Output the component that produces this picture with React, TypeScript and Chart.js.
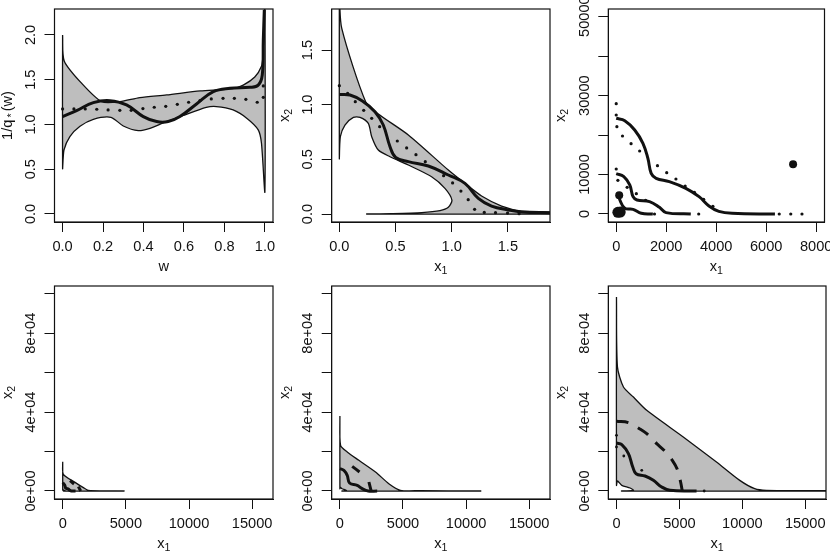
import { useEffect, useRef } from "react";
import { Chart, registerables } from "chart.js";

Chart.register(...registerables);

type Pt = [number, number];

const FONT = '"Liberation Sans", Arial, sans-serif';
const GREY = "#bebebe";
const INK = "#111";

// panel 1: w against 1/q*(w)
const p1Upper: Pt[] = [[0, 2], [0.008, 1.71], [0.094, 1.46], [0.193, 1.255], [0.283, 1.255], [0.382, 1.3], [0.514, 1.33], [0.68, 1.375], [0.84, 1.4], [0.893, 1.44], [0.95, 1.53], [0.983, 1.65], [0.99, 1.76], [0.998, 2.28], [1, 2.6]];
const p1Lower: Pt[] = [[0, 0.51], [0.007, 0.715], [0.036, 0.865], [0.086, 0.98], [0.152, 1.058], [0.239, 1.08], [0.3, 0.983], [0.374, 0.931], [0.432, 0.957], [0.5, 1.02], [0.596, 1.1], [0.71, 1.19], [0.76, 1.2], [0.843, 1.162], [0.91, 1.07], [0.967, 0.94], [0.983, 0.79], [1, 0.25]];
const p1Main: Pt[] = [[0, 1.088], [0.069, 1.155], [0.152, 1.244], [0.234, 1.266], [0.316, 1.218], [0.399, 1.088], [0.465, 1.032], [0.522, 1.032], [0.58, 1.088], [0.662, 1.229], [0.745, 1.367], [0.827, 1.404], [0.926, 1.415], [0.967, 1.44], [0.987, 1.553], [0.992, 1.944], [0.997, 2.28]];
const p1Dots: Pt[] = [[0, 1.173], [0.056, 1.173], [0.112, 1.173], [0.169, 1.17], [0.225, 1.162], [0.283, 1.158], [0.339, 1.158], [0.397, 1.177], [0.453, 1.192], [0.51, 1.203], [0.567, 1.225], [0.623, 1.248], [0.679, 1.266], [0.735, 1.285], [0.793, 1.292], [0.849, 1.292], [0.906, 1.281], [0.962, 1.248], [0.992, 1.303], [0.992, 1.43]];

// panel 2: unit scale
const p2Upper: Pt[] = [[0, 2], [0.021, 1.7], [0.234, 1.027], [0.347, 0.915], [0.614, 0.723], [0.97, 0.402], [1.118, 0.28], [1.266, 0.165], [1.444, 0.073], [1.622, 0.027], [1.875, 0.018], [2.6, 0]];
const p2Lower: Pt[] = [[0, 0.509], [0.009, 0.707], [0.05, 0.814], [0.125, 0.884], [0.184, 0.884], [0.258, 0.829], [0.288, 0.707], [0.347, 0.585], [0.451, 0.524], [0.614, 0.448], [0.821, 0.341], [0.94, 0.235], [1.002, 0.128], [0.97, 0.061], [0.896, 0.03], [0.733, 0.012], [0.466, 0.003], [0.249, 0]];
const p2Main: Pt[] = [[0, 1.094], [0.095, 1.088], [0.205, 1.034], [0.317, 0.936], [0.391, 0.814], [0.451, 0.616], [0.501, 0.518], [0.614, 0.479], [0.792, 0.439], [0.97, 0.357], [1.118, 0.28], [1.237, 0.143], [1.355, 0.073], [1.503, 0.037], [1.622, 0.018], [1.875, 0.012]];
const p2Dots: Pt[] = [[0, 1.174], [0.074, 1.104], [0.142, 1.027], [0.217, 0.948], [0.288, 0.875], [0.359, 0.799], [0.516, 0.668], [0.599, 0.604], [0.682, 0.543], [0.765, 0.479], [0.928, 0.351], [1.008, 0.284], [1.082, 0.21], [1.147, 0.131], [1.204, 0.043], [1.29, 0.015], [1.39, 0.012], [1.497, 0.009], [1.6, 0.003]];

// panel 3: three return levels, no band
const p3CurveA: Pt[] = [[0, 24240], [343, 23650], [739, 21280], [1069, 17900], [1267, 14100], [1399, 10300], [1597, 9040], [2125, 8190], [2785, 6500], [3313, 4390], [3710, 2030], [4106, 680], [4634, 170], [6350, 0]];
const p3CurveB: Pt[] = [[0, 10220], [304, 9460], [541, 7350], [673, 4390], [832, 3550], [1333, 3125], [1729, 1690], [1993, 340], [2983, 0]];
const p3CurveC: Pt[] = [[119, 4730], [145, 3550], [343, 1440], [673, 1180], [1003, 170], [1465, 0]];
const p3Dots: Pt[] = [[0, 27960], [0, 25080], [26, 22130], [251, 19760], [594, 17820], [937, 15960], [1650, 12250], [2020, 10470], [2389, 8870], [2759, 7090], [3129, 5490], [3498, 3720], [3868, 1940], [6522, 0], [6983, 0], [7432, 0], [0, 11400], [66, 8530], [436, 6760], [805, 5150], [1175, 3460], [3300, 0], [1531, 0]];
const p3BigDots: Pt[] = [[7076, 12585], [119, 4730]];
const p3Blob: Pt[] = [[66, 420], [160, 500]];

// panel 4
const p4Upper: Pt[] = [[0, 14860], [53, 8450], [976, 4390], [1636, 1690], [2032, 340], [4855, 0]];
const p4Lower: Pt[] = [[0, 430], [12, 760], [63, 430], [162, 230], [202, 50], [63, 0]];
const p4Main: Pt[] = [[0, 4200], [68, 3757], [152, 3027], [207, 1946], [249, 1405], [363, 1216], [469, 864], [575, 325], [680, 54], [1018, 0]];
const p4Dash: Pt[][] = [[[580, 5240], [897, 3550]], [[1240, 2200], [1425, 0]]];

// panel 5
const p5Upper: Pt[] = [[0, 38000], [53, 23140], [580, 19760], [1503, 15540], [2821, 9630], [3876, 3720], [4798, 340], [6380, 170], [11130, 0]];
const p5Lower: Pt[] = [[0, 1120], [31, 1980], [165, 1120], [422, 590], [525, 130], [165, 0]];
const p5Main: Pt[] = [[0, 11320], [316, 10470], [580, 7940], [765, 4050], [1371, 2870], [1767, 1180], [2241, 0], [2953, 0]];
const p5Dash: Pt[][] = [[[975, 12500], [1555, 9630]], [[2300, 4560], [2478, 0]]];

// panel 6
const p6Upper: Pt[] = [[0, 98300], [79, 62800], [555, 52700], [1347, 47600], [2403, 40900], [5308, 27400], [7948, 14700], [9797, 5400], [10985, 1180], [11910, 340], [16660, 170], [20000, 0]];
const p6Lower: Pt[] = [[0, 2870], [79, 5070], [422, 2870], [1082, 1520], [1347, 340], [422, 0]];
const p6Main: Pt[] = [[0, 24320], [422, 23480], [950, 18920], [1294, 12160], [1558, 8780], [2271, 7600], [2931, 5400], [3591, 2030], [4251, 340], [6364, 0]];
const p6Dash: Pt[] = [[0, 35300], [950, 34630], [1822, 31590], [2403, 29050], [3195, 23990], [3776, 20610], [4436, 15540], [4832, 10980], [5096, 4560], [5228, 0]];
const p6Dots: Pt[] = [[0, 28200], [0, 22300], [581, 17740], [2007, 10470], [6970, 0]];

// ticks
const wTicks = [0, 0.2, 0.4, 0.6, 0.8, 1];
const unitTicks = [0, 0.5, 1, 1.5];
const qTicks = [0, 0.5, 1, 1.5, 2];
const p3XTicks = [0, 2000, 4000, 6000, 8000];
const p3YTicks = [0, 10000, 20000, 30000, 40000, 50000];
const bigXTicks = [0, 5000, 10000, 15000];
const bigYTicks = [0, 20000, 40000, 60000, 80000, 100000];

const wLabels = ["0.0", "0.2", "0.4", "0.6", "0.8", "1.0"];
const unitLabels = ["0.0", "0.5", "1.0", "1.5"];
const qLabels = ["0.0", "0.5", "1.0", "1.5", "2.0"];
const p3XLabels = ["0", "2000", "4000", "6000", "8000"];
const p3YLabels = ["0", "10000", "", "30000", "", "50000"];
const bigXLabels = ["0", "5000", "10000", "15000"];
const bigYLabels = ["0e+00", "", "4e+04", "", "8e+04", ""];

type Part = { t: string; sub?: boolean };
const X1: Part[] = [{ t: "x" }, { t: "1", sub: true }];
const X2: Part[] = [{ t: "x" }, { t: "2", sub: true }];
const W: Part[] = [{ t: "w" }];
const Q: Part[] = [{ t: "1/q" }, { t: "\u2009*\u2009", sub: true }, { t: "(w)" }];

function drawParts(ctx: CanvasRenderingContext2D, parts: Part[]) {
  const fontOf = (p: Part) => `${p.sub ? 10.6 : 14.6}px ${FONT}`;
  let total = 0;
  for (const p of parts) {
    ctx.font = fontOf(p);
    total += ctx.measureText(p.t).width;
  }
  let at = -total / 2;
  ctx.textAlign = "left";
  ctx.textBaseline = "alphabetic";
  for (const p of parts) {
    ctx.font = fontOf(p);
    ctx.fillText(p.t, at, p.sub ? 8 : 5);
    at += ctx.measureText(p.t).width;
  }
}

const toXY = (pts: Pt[]) => pts.map(([x, y]) => ({ x, y }));
const line = (pts: Pt[], width: number, dash: number[] = [], tension = 0.4) => ({
  data: toXY(pts),
  showLine: true,
  borderColor: INK,
  borderWidth: width,
  borderDash: dash,
  pointRadius: 0,
  tension
});
const dots = (pts: Pt[], radius: number) => ({
  data: toXY(pts),
  showLine: false,
  pointRadius: radius,
  pointBackgroundColor: INK,
  pointBorderWidth: 0
});
const band = (upper: Pt[], lower: Pt[]) => ({
  ...line([...upper, ...[...lower].reverse(), upper[0]], 1.3, [], 0.25),
  isBand: true
});

const sets = {
  p1: [dots(p1Dots, 1.6), line(p1Main, 3), band(p1Upper, p1Lower)],
  p2: [dots(p2Dots, 1.6), line(p2Main, 3), band(p2Upper, p2Lower)],
  p3: [dots(p3Blob, 5.5), dots(p3BigDots, 4), dots(p3Dots, 1.6), line(p3CurveA, 3), line(p3CurveB, 3), line(p3CurveC, 3)],
  p4: [...p4Dash.map(s => line(s, 3)), line(p4Main, 3), band(p4Upper, p4Lower)],
  p5: [...p5Dash.map(s => line(s, 3)), line(p5Main, 3), band(p5Upper, p5Lower)],
  p6: [dots(p6Dots, 1.4), line(p6Dash, 3, [12, 11]), line(p6Main, 3), band(p6Upper, p6Lower)]
};

type PanelProps = {
  left: number;
  top: number;
  boxLeft: number;
  datasets: any[];
  xRange: number[];
  yRange: number[];
  xTicks: number[];
  xLabels: string[];
  yTicks: number[];
  yLabels: string[];
  xTitle: Part[];
  yTitle: Part[];
};

function Panel(props: PanelProps) {
  const ref = useRef<HTMLCanvasElement | null>(null);

  useEffect(() => {
    if (!ref.current) return;
    const { boxLeft, xTicks, xLabels, yTicks, yLabels, xTitle, yTitle } = props;

    const chart = new Chart(ref.current, {
      type: "scatter",
      data: { datasets: props.datasets },
      options: {
        responsive: false,
        animation: false,
        devicePixelRatio: 1,
        layout: { padding: { top: 9, right: 4, left: 0, bottom: 0 } },
        plugins: { legend: { display: false }, tooltip: { enabled: false } },
        scales: {
          x: {
            type: "linear",
            min: props.xRange[0],
            max: props.xRange[1],
            afterBuildTicks: (s: any) => {
              s.ticks = xTicks.map(value => ({ value }));
            },
            afterFit: (s: any) => {
              s.height = 55;
              s.paddingLeft = 0;
              s.paddingRight = 0;
            },
            grid: { drawOnChartArea: false, tickLength: 10, tickColor: INK, tickWidth: 1 },
            border: { color: INK, width: 1 },
            ticks: {
              autoSkip: false,
              maxRotation: 0,
              minRotation: 0,
              padding: 6,
              color: INK,
              font: { family: FONT, size: 14.6 },
              callback: (v: any) => xLabels[xTicks.indexOf(v)] ?? ""
            }
          },
          y: {
            type: "linear",
            min: props.yRange[0],
            max: props.yRange[1],
            afterBuildTicks: (s: any) => {
              s.ticks = yTicks.map(value => ({ value }));
            },
            afterFit: (s: any) => {
              s.width = boxLeft;
              s.paddingTop = 0;
              s.paddingBottom = 0;
            },
            grid: { drawOnChartArea: false, tickLength: 10, tickColor: INK, tickWidth: 1 },
            border: { color: INK, width: 1 },
            ticks: { display: false }
          }
        }
      },
      plugins: [
        {
          id: "band",
          beforeDatasetsDraw(c: Chart) {
            const ctx = c.ctx;
            const a = c.chartArea;
            c.data.datasets.forEach((ds: any, i: number) => {
              if (!ds.isBand) return;
              ctx.save();
              ctx.beginPath();
              ctx.rect(a.left, a.top, a.right - a.left, a.bottom - a.top);
              ctx.clip();
              ctx.beginPath();
              (c.getDatasetMeta(i).dataset as any).path(ctx);
              ctx.closePath();
              ctx.fillStyle = GREY;
              ctx.fill();
              ctx.restore();
            });
          }
        },
        {
          id: "rAxes",
          afterDraw(c: Chart) {
            const ctx = c.ctx;
            const a = c.chartArea;
            ctx.save();
            ctx.strokeStyle = INK;
            ctx.lineWidth = 1.2;
            ctx.strokeRect(a.left, a.top, a.right - a.left, a.bottom - a.top);
            ctx.fillStyle = INK;

            // y tick labels read upwards, as R draws them
            yTicks.forEach((v, i) => {
              if (!yLabels[i]) return;
              ctx.save();
              ctx.translate(a.left - 23.5, c.scales.y.getPixelForValue(v));
              ctx.rotate(-Math.PI / 2);
              ctx.font = `14.6px ${FONT}`;
              ctx.textAlign = "center";
              ctx.textBaseline = "middle";
              ctx.fillText(yLabels[i], 0, 0);
              ctx.restore();
            });

            ctx.save();
            ctx.translate((a.left + a.right) / 2, a.bottom + 44);
            drawParts(ctx, xTitle);
            ctx.restore();

            ctx.save();
            ctx.translate(a.left - 48, (a.top + a.bottom) / 2);
            ctx.rotate(-Math.PI / 2);
            drawParts(ctx, yTitle);
            ctx.restore();

            ctx.restore();
          }
        }
      ]
    } as any);

    return () => chart.destroy();
  }, []);

  return (
    <canvas
      ref={ref}
      width={277}
      height={277}
      style={{ position: "absolute", left: props.left, top: props.top, width: 277, height: 277 }}
    />
  );
}

export default function App() {
  const bigX = [-650, 16650];
  const bigY = [-4056, 103900];
  return (
    <div style={{ position: "absolute", left: 0, top: 0, width: 830, height: 554, overflow: "hidden", background: "#fff" }}>
      <Panel left={0} top={0} boxLeft={54.5} datasets={sets.p1} xRange={[-0.04, 1.04]} yRange={[-0.09, 2.29]} xTicks={wTicks} xLabels={wLabels} yTicks={qTicks} yLabels={qLabels} xTitle={W} yTitle={Q} />
      <Panel left={277} top={0} boxLeft={54.7} datasets={sets.p2} xRange={[-0.068, 1.875]} yRange={[-0.073, 1.875]} xTicks={unitTicks} xLabels={unitLabels} yTicks={unitTicks} yLabels={unitLabels} xTitle={X1} yTitle={X2} />
      <Panel left={553} top={0} boxLeft={55.3} datasets={sets.p3} xRange={[-317, 8333]} yRange={[-2030, 51940]} xTicks={p3XTicks} xLabels={p3XLabels} yTicks={p3YTicks} yLabels={p3YLabels} xTitle={X1} yTitle={X2} />
      <Panel left={0} top={277} boxLeft={54.5} datasets={sets.p4} xRange={bigX} yRange={bigY} xTicks={bigXTicks} xLabels={bigXLabels} yTicks={bigYTicks} yLabels={bigYLabels} xTitle={X1} yTitle={X2} />
      <Panel left={277} top={277} boxLeft={54.7} datasets={sets.p5} xRange={bigX} yRange={bigY} xTicks={bigXTicks} xLabels={bigXLabels} yTicks={bigYTicks} yLabels={bigYLabels} xTitle={X1} yTitle={X2} />
      <Panel left={553} top={277} boxLeft={55.3} datasets={sets.p6} xRange={bigX} yRange={bigY} xTicks={bigXTicks} xLabels={bigXLabels} yTicks={bigYTicks} yLabels={bigYLabels} xTitle={X1} yTitle={X2} />
    </div>
  );
}
